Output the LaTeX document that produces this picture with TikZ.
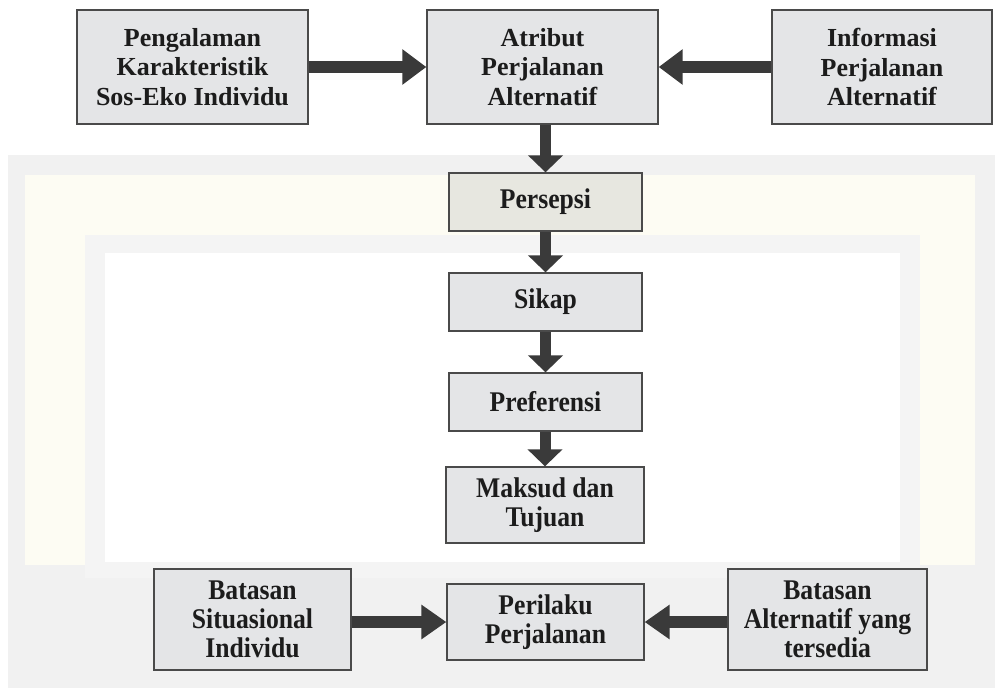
\documentclass[tikz,border=0pt]{standalone}
\usepackage{fontspec}
\setmainfont{Liberation Serif}
\newfontfamily\topf[FakeStretch=1.0]{Liberation Serif}
\newfontfamily\lowf[FakeStretch=0.9]{Liberation Serif}
\usetikzlibrary{arrows.meta}
\definecolor{boxfill}{HTML}{E4E5E7}
\definecolor{boxfillB}{HTML}{E7E7E0}
\definecolor{boxline}{HTML}{4A4A4A}
\definecolor{arrowc}{HTML}{3A3A3A}
\definecolor{txt}{HTML}{1C1C1C}
\definecolor{wmgrey}{HTML}{F1F1F1}
\definecolor{wmgrey2}{HTML}{F4F4F4}
\definecolor{wmyel}{HTML}{FDFCF3}
\tikzset{
  box/.style={draw=boxline, line width=1.3pt, fill=boxfill, text=txt, inner sep=0pt, align=center},
  topbox/.style={box, minimum height=114pt, font=\topf\bfseries\fontsize{26}{29.5}\selectfont},
  midbox/.style={box, minimum width=193pt, minimum height=58pt, font=\lowf\bfseries\fontsize{28.5}{29}\selectfont},
  lowbox/.style={box, font=\lowf\bfseries\fontsize{28.5}{29}\selectfont},
  harrow/.style={draw=arrowc, line width=11.5pt, -{Triangle[width=34pt,length=24pt]}, color=arrowc},
  varrow/.style={draw=arrowc, line width=11pt, -{Triangle[width=34pt,length=17pt]}, color=arrowc},
  barrow/.style={draw=arrowc, line width=12.5pt, -{Triangle[width=33pt,length=25pt]}, color=arrowc}
}
\begin{document}
\begin{tikzpicture}[x=1pt,y=-1pt]
\useasboundingbox (0,0) rectangle (995,688);
\fill[white] (0,0) rectangle (995,688);
% faint watermark background
\fill[wmgrey] (8,155) rectangle (995,688);
\fill[wmyel] (25,175) rectangle (975,565);
\fill[wmgrey2] (85,235) rectangle (920,578);
\fill[white] (105,253) rectangle (900,562);

% top row
\node[topbox, minimum width=231pt] (tl) at (192.5,67) {Pengalaman\\Karakteristik\\Sos-Eko Individu};
\node[topbox, minimum width=231pt] (atr) at (542.5,67) {Atribut\\Perjalanan\\Alternatif};
\node[topbox, minimum width=220pt] (info) at (882,67) {Informasi\\Perjalanan\\Alternatif};

% middle column
\node[midbox, fill=boxfillB] (pers) at (545.5,202) {Persepsi};
\node[midbox] (sikap) at (545.5,302) {Sikap};
\node[midbox] (pref) at (545.5,402) {Preferensi};
\node[lowbox, minimum width=198pt, minimum height=76pt] (maks) at (545,505) {Maksud dan\\Tujuan};

% bottom row
\node[lowbox, minimum width=197pt, minimum height=101pt] (bl) at (252.5,619.5) {Batasan\\Situasional\\Individu};
\node[lowbox, minimum width=197pt, minimum height=76pt] (peril) at (545.5,622) {Perilaku\\Perjalanan};
\node[lowbox, minimum width=199pt, minimum height=101pt] (br) at (827.5,619.5) {Batasan\\Alternatif yang\\tersedia};

% arrows
\draw[harrow] (tl.east) -- (atr.west);
\draw[harrow] (info.west) -- (atr.east);
\draw[varrow] (atr.south -| pers.north) -- (pers.north);
\draw[varrow] (pers.south) -- (sikap.north);
\draw[varrow] (sikap.south) -- (pref.north);
\draw[varrow] (pref.south -| maks.north) -- (maks.north);
\draw[barrow] (bl.east |- peril.west) -- (peril.west);
\draw[barrow] (br.west |- peril.east) -- (peril.east);
\end{tikzpicture}
\end{document}
